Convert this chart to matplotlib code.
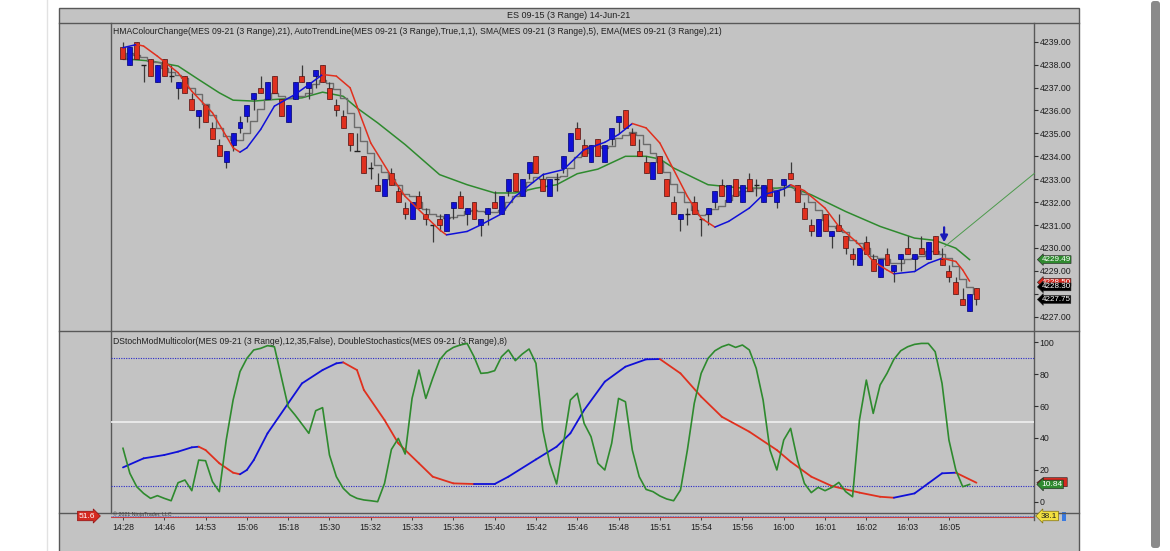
import numpy as np
import pandas as pd
import matplotlib
matplotlib.use("Agg")
import matplotlib.pyplot as plt
from matplotlib.patches import Rectangle, FancyBboxPatch, Polygon
from matplotlib.transforms import blended_transform_factory

plt.rcParams['font.family'] = ['Liberation Sans', 'DejaVu Sans']

# ---- range bars (MES 09-21, 3 range) ----
bar_open = [4238.75, 4238.0, 4239.0, 4238.0, 4238.25, 4237.25, 4238.25, 4237.5, 4237.0, 4237.5,
            4236.5, 4235.75, 4236.25, 4235.25, 4234.5, 4233.75, 4234.5, 4235.25, 4235.75, 4236.5,
            4237.0, 4236.5, 4237.5, 4236.5, 4235.5, 4236.5, 4237.5, 4237.0, 4237.5, 4238.0,
            4237.0, 4236.25, 4235.75, 4235.0, 4234.25, 4234.0, 4233.5, 4232.75, 4232.25, 4233.25,
            4232.5, 4231.75, 4231.25, 4232.25, 4231.5, 4231.0, 4231.25, 4230.75, 4231.75, 4232.25,
            4231.5, 4232.0, 4231.0, 4231.5, 4232.0, 4231.5, 4232.5, 4233.25, 4232.25, 4233.25,
            4234.0, 4233.0, 4232.25, 4233.0, 4233.5, 4234.25, 4235.25, 4234.5, 4233.75, 4234.75,
            4233.75, 4234.75, 4235.5, 4236.0, 4235.0, 4234.25, 4233.75, 4233.0, 4234.0, 4233.0,
            4232.0, 4231.25, 4231.5, 4232.0, 4231.25, 4231.5, 4232.0, 4232.75, 4232.0, 4233.0,
            4232.0, 4233.0, 4232.75, 4232.0, 4233.0, 4232.0, 4232.75, 4233.25, 4232.75, 4231.75,
            4231.0, 4230.5, 4231.5, 4230.5, 4231.0, 4230.5, 4229.75, 4229.25, 4230.25, 4229.5,
            4228.75, 4229.75, 4229.0, 4229.5, 4230.0, 4229.5, 4230.0, 4229.5, 4230.5, 4229.5,
            4229.0, 4228.5, 4227.75, 4227.25, 4228.25]
bar_close = [4238.25, 4238.75, 4238.25, 4238.0, 4237.5, 4238.0, 4237.5, 4237.5, 4237.25, 4236.75,
             4236.0, 4236.0, 4235.5, 4234.75, 4234.0, 4234.25, 4235.0, 4235.5, 4236.25, 4236.75,
             4236.75, 4237.25, 4236.75, 4235.75, 4236.25, 4237.25, 4237.25, 4237.25, 4237.75, 4237.25,
             4236.5, 4236.0, 4235.25, 4234.5, 4234.25, 4233.25, 4233.5, 4232.5, 4233.0, 4232.75,
             4232.0, 4231.5, 4232.0, 4231.75, 4231.25, 4231.0, 4231.0, 4231.5, 4232.0, 4231.75,
             4231.75, 4231.25, 4231.25, 4231.75, 4231.75, 4232.25, 4233.0, 4232.5, 4233.0, 4233.75,
             4233.25, 4232.5, 4233.0, 4233.0, 4234.0, 4235.0, 4234.75, 4234.0, 4234.5, 4234.0,
             4234.5, 4235.25, 4235.75, 4235.25, 4234.5, 4234.0, 4233.25, 4233.75, 4233.25, 4232.25,
             4231.5, 4231.5, 4231.5, 4231.5, 4231.25, 4231.75, 4232.5, 4232.25, 4232.75, 4232.25,
             4232.75, 4232.5, 4232.75, 4232.75, 4232.25, 4232.5, 4233.0, 4233.0, 4232.0, 4231.25,
             4230.75, 4231.25, 4230.75, 4230.75, 4230.75, 4230.0, 4229.5, 4230.0, 4229.75, 4229.0,
             4229.5, 4229.25, 4229.25, 4229.75, 4229.75, 4229.75, 4229.75, 4230.25, 4229.75, 4229.25,
             4228.75, 4228.0, 4227.5, 4228.0, 4227.75]
bar_high = [4239.0, 4238.75, 4239.0, 4238.0, 4238.25, 4238.0, 4238.25, 4238.0, 4237.25, 4237.5,
            4236.75, 4236.0, 4236.25, 4235.5, 4234.75, 4234.25, 4235.0, 4235.75, 4236.25, 4236.75,
            4237.5, 4237.25, 4237.5, 4236.5, 4236.25, 4237.25, 4238.0, 4237.25, 4237.75, 4238.0,
            4237.25, 4236.5, 4236.0, 4235.0, 4235.0, 4234.0, 4233.75, 4233.25, 4233.0, 4233.5,
            4232.75, 4232.0, 4232.0, 4232.5, 4231.75, 4231.0, 4231.5, 4231.5, 4232.0, 4232.5,
            4231.75, 4232.0, 4231.25, 4231.75, 4232.5, 4232.25, 4233.0, 4233.25, 4233.0, 4233.75,
            4234.0, 4233.25, 4233.0, 4233.25, 4234.0, 4235.0, 4235.5, 4234.75, 4234.5, 4234.75,
            4234.5, 4235.25, 4235.75, 4236.0, 4235.25, 4234.75, 4234.0, 4233.75, 4234.0, 4233.0,
            4232.25, 4231.5, 4231.75, 4232.25, 4231.25, 4231.75, 4232.5, 4233.0, 4232.75, 4233.0,
            4232.75, 4233.25, 4233.0, 4232.75, 4233.0, 4232.5, 4233.0, 4233.75, 4232.75, 4232.0,
            4231.25, 4231.25, 4231.5, 4230.75, 4231.5, 4230.5, 4230.0, 4230.0, 4230.5, 4229.75,
            4229.5, 4230.0, 4229.25, 4229.75, 4230.5, 4229.75, 4230.5, 4230.25, 4230.5, 4230.0,
            4229.25, 4228.75, 4228.25, 4228.0, 4228.25]
bar_low = [4238.25, 4238.0, 4238.25, 4237.25, 4237.5, 4237.25, 4237.5, 4237.25, 4236.5, 4236.75,
           4236.0, 4235.25, 4235.5, 4234.75, 4234.0, 4233.5, 4234.25, 4235.0, 4235.5, 4236.0,
           4236.75, 4236.5, 4236.75, 4235.75, 4235.5, 4236.5, 4237.25, 4236.5, 4237.0, 4237.25,
           4236.5, 4235.75, 4235.25, 4234.25, 4234.25, 4233.25, 4233.0, 4232.5, 4232.25, 4232.75,
           4232.0, 4231.25, 4231.25, 4231.75, 4231.0, 4230.25, 4230.75, 4230.75, 4231.25, 4231.75,
           4231.0, 4231.25, 4230.5, 4231.0, 4231.75, 4231.5, 4232.25, 4232.5, 4232.25, 4233.0,
           4233.25, 4232.5, 4232.25, 4232.5, 4233.25, 4234.25, 4234.75, 4234.0, 4233.75, 4234.0,
           4233.75, 4234.5, 4235.0, 4235.25, 4234.5, 4234.0, 4233.25, 4233.0, 4233.25, 4232.25,
           4231.5, 4230.75, 4231.0, 4231.5, 4230.5, 4231.0, 4231.75, 4232.25, 4232.0, 4232.25,
           4232.0, 4232.5, 4232.25, 4232.0, 4232.25, 4231.75, 4232.25, 4233.0, 4232.0, 4231.25,
           4230.5, 4230.5, 4230.75, 4230.0, 4230.75, 4229.75, 4229.25, 4229.25, 4229.75, 4229.0,
           4228.75, 4229.25, 4228.5, 4229.0, 4229.75, 4229.0, 4229.75, 4229.5, 4229.75, 4229.25,
           4228.5, 4228.0, 4227.5, 4227.25, 4227.5]

# HMA(21) at bar positions
hma_bar = [0, 2, 3, 5, 8, 10, 13, 15, 16, 17, 18, 20, 22, 25, 27, 29, 31, 33, 34, 36,
           39, 41, 44, 46, 47, 50, 52, 55, 57, 61, 64, 67, 70, 72, 74, 76, 78, 80, 82, 84,
           86, 88, 91, 93, 96, 97, 99, 102, 104, 107, 109, 111, 112, 115, 117, 119, 121, 122, 123]
hma_val = [4238.74, 4238.88, 4238.81, 4238.37, 4237.65, 4236.84, 4235.90, 4234.88, 4234.37, 4234.18,
           4234.37, 4235.17, 4236.19, 4236.70, 4237.13, 4237.57, 4237.50, 4236.99, 4236.18, 4234.58,
           4233.12, 4232.25, 4231.37, 4230.79, 4230.57, 4230.72, 4231.01, 4231.49, 4232.25, 4233.20,
           4233.42, 4234.29, 4234.61, 4234.95, 4235.43, 4235.24, 4234.58, 4233.42, 4232.25, 4231.30,
           4230.91, 4231.16, 4231.74, 4232.32, 4232.57, 4232.76, 4232.50, 4231.74, 4230.94, 4230.14,
           4229.41, 4229.04, 4228.87, 4228.97, 4229.33, 4229.55, 4229.41, 4229.04, 4228.55]

# EMA(21)
ema_bar = [0, 4, 8, 11, 14, 16, 19, 22, 26, 29, 32, 34, 37, 41, 46, 50, 54, 57, 60, 63,
           66, 69, 73, 76, 78, 80, 85, 90, 95, 97, 100, 105, 110, 115, 118, 121, 123]
ema_val = [4238.26, 4238.16, 4237.94, 4237.35, 4236.77, 4236.45, 4236.41, 4236.48, 4236.55, 4236.80,
           4236.62, 4236.11, 4235.46, 4234.51, 4233.20, 4232.76, 4232.40, 4232.40, 4232.61, 4232.76,
           4233.24, 4233.44, 4234.00, 4234.00, 4233.88, 4233.49, 4232.76, 4232.61, 4232.61, 4232.66,
           4232.32, 4231.59, 4230.94, 4230.43, 4230.33, 4229.99, 4229.49]

# AutoTrendLine end points
trend_bar = [119.4, 132.4]
trend_val = [4230.06, 4233.25]

# DStochModMulticolor(12,35)
dstoch_bar = [0, 3, 6, 8, 10, 11, 12, 14, 16, 17, 18, 19, 21, 24, 26, 29, 31, 32, 34, 35,
              38, 40, 43, 45, 48, 51, 54, 56, 60, 63, 65, 67, 70, 73, 76, 78, 81, 84, 87, 91,
              95, 97, 100, 103, 107, 110, 112, 115, 117, 119, 121, 124]
dstoch_val = [21.5, 27.2, 29.3, 31.4, 34.1, 34.5, 32.4, 24.1, 18.2, 17.2, 19.9, 26.1, 42.9, 61.7,
              74.2, 82.6, 86.8, 87.4, 82.6, 70.1, 51.2, 36.6, 24.1, 15.7, 11.5, 11.1, 11.1, 15.7,
              26.5, 34.5, 42.9, 57.5, 75.3, 84.7, 89.3, 89.5, 80.5, 65.9, 53.3, 43.9, 32.4, 25.1,
              15.7, 9.8, 5.7, 3.1, 2.5, 5.2, 11.5, 17.8, 18.2, 11.9]

# DoubleStochastics(8), one value per bar
dbl_stoch = [33.5, 17.8, 9.4, 5.2, 2.1, 3.8, 2.1, 0.6, 11.9, 13.6,
             6.9, 26.1, 25.7, 12.6, 6.3, 38.7, 63.8, 81.6, 89.9, 95.2,
             96.2, 97.9, 97.2, 78.4, 59.6, 54.4, 48.7, 42.9, 57.1, 59.0,
             29.3, 15.7, 8.4, 4.2, 2.1, 1.1, 0.6, 0.0, 11.5, 32.8,
             39.7, 29.9, 64.8, 82.6, 64.8, 77.4, 88.9, 94.1, 96.8, 98.3,
             99.3, 91.0, 80.5, 80.9, 82.2, 91.0, 95.2, 88.5, 92.6, 95.8,
             86.8, 45.0, 24.1, 11.1, 36.6, 63.8, 68.0, 49.1, 40.8, 24.1,
             19.9, 36.6, 64.8, 62.7, 32.4, 15.7, 7.7, 6.3, 3.6, 1.7,
             0.6, 7.3, 32.4, 61.7, 80.5, 89.9, 94.7, 97.2, 98.7, 96.8,
             98.3, 95.2, 83.7, 63.8, 32.4, 19.9, 38.7, 46.0, 26.1, 11.5,
             5.7, 9.0, 6.9, 9.0, 12.1, 6.3, 3.1, 51.2, 76.3, 55.4,
             73.2, 80.5, 89.3, 94.7, 97.2, 98.7, 99.3, 99.3, 94.1, 74.2,
             38.7, 19.9, 9.4, 10.84]

time_labels = ['14:28', '14:46', '14:53', '15:06', '15:18', '15:30', '15:32', '15:33', '15:36',
               '15:40', '15:42', '15:46', '15:48', '15:51', '15:54', '15:56', '16:00', '16:01',
               '16:02', '16:03', '16:05']

price_ticks = [4227, 4228, 4229, 4230, 4231, 4232, 4233, 4234, 4235, 4236, 4237, 4238, 4239]
price_tags = [('4229.49', 4229.49, '#2f8a2f'), ('4228.50', 4228.50, '#d42a20'),
              ('4228.30', 4228.30, '#000000'), ('4227.75', 4227.75, '#000000')]

W, H = 1170, 551
GRAY = '#c3c3c3'
LINE = '#585858'
RED = '#e0301e'
BLUE = '#1010d8'
GREEN = '#2e8a2e'

fig = plt.figure(figsize=(W / 100, H / 100), dpi=100)
fig.patch.set_facecolor('white')


def pane(l, t, r, b):
    return fig.add_axes([l / W, 1 - b / H, (r - l) / W, (b - t) / H])


# background frame in pixel coordinates
bg = pane(0, 0, W, H)
bg.set_xlim(0, W)
bg.set_ylim(H, 0)
bg.axis('off')
bg.plot([47, 47], [0, H], color='#e2e2e2', lw=1)
bg.add_patch(Rectangle((59, 8), 1020, 548, fc=GRAY, ec=LINE, lw=1))
for yy in (22.5, 331, 513):
    bg.plot([59, 1079], [yy, yy], color=LINE, lw=1)
bg.plot([111, 111], [22.5, 513], color=LINE, lw=1)
bg.plot([1034, 1034], [22.5, 520], color=LINE, lw=1)
bg.add_patch(FancyBboxPatch((1151, 1), 9, 547, boxstyle='round,pad=0,rounding_size=3',
                            fc='#8a8a8a', ec='none'))
bg.text(569, 15, 'ES 09-15 (3 Range) 14-Jun-21', ha='center', va='center', fontsize=6.5, color='#202020')
bg.text(113, 31, 'HMAColourChange(MES 09-21 (3 Range),21), AutoTrendLine(MES 09-21 (3 Range),True,1,1), '
        'SMA(MES 09-21 (3 Range),5), EMA(MES 09-21 (3 Range),21)',
        ha='left', va='center', fontsize=6.25, color='#202020')
bg.text(113, 341, 'DStochModMulticolor(MES 09-21 (3 Range),12,35,False), DoubleStochastics(MES 09-21 (3 Range),8)',
        ha='left', va='center', fontsize=6.2, color='#202020')
bg.text(113, 514.5, '\u00a9 2021 NinjaTrader, LLC', ha='left', va='center', fontsize=3.8, color='#404040')
bg.text(87, 516, '51.6', ha='center', va='center', fontsize=6, color='white',
        bbox=dict(boxstyle='rarrow,pad=0.15', fc='#d42a20', ec='#901010', lw=0.5))
bg.text(1049, 516, '38.1', ha='center', va='center', fontsize=6, color='#202020',
        bbox=dict(boxstyle='larrow,pad=0.15', fc='#f2e040', ec='#807010', lw=0.5))
bg.add_patch(Rectangle((1062, 511.5), 4, 9, fc='#3a7ae0', ec='none'))

x0, x1 = -1.74, 132.36
n = len(bar_open)
xs = np.arange(n)
o = np.array(bar_open)
c = np.array(bar_close)

# ---- price panel ----
ax = pane(111, 22.5, 1034, 331)
ax.set_facecolor('none')
ax.set_xlim(x0, x1)
ax.set_ylim(4226.375, 4239.84)
for s in ax.spines.values():
    s.set_visible(False)
ax.set_xticks([])
ax.yaxis.tick_right()
ax.set_yticks(price_ticks)
# the 4228.00 label sits under the price tags in the reference
ax.set_yticklabels(['' if v == 4228 else '%.2f' % v for v in price_ticks])
ax.tick_params(axis='y', length=3, width=0.8, color='#303030', pad=1, labelsize=6.3, labelcolor='#202020')

ax.plot(ema_bar, ema_val, color=GREEN, lw=1.1, zorder=2)

sma = pd.Series(bar_close).rolling(5, min_periods=1).mean()
ax.plot(xs, sma, drawstyle='steps-mid', color='#6c6c6c', lw=1.0, zorder=2)

ax.vlines(xs, bar_low, bar_high, color='#3a3a3a', lw=0.9, zorder=3)
up = c > o
dn = c < o
ax.bar(xs[up], (c - o)[up], bottom=o[up], width=0.72, color=BLUE, edgecolor='#000070', lw=0.5, zorder=4)
ax.bar(xs[dn], (o - c)[dn], bottom=c[dn], width=0.72, color=RED, edgecolor='#501010', lw=0.5, zorder=4)
dj = c == o
ax.hlines(o[dj], xs[dj] - 0.38, xs[dj] + 0.38, color='#202020', lw=1.0, zorder=4)

for k in range(len(hma_bar) - 1):
    col = BLUE if hma_val[k + 1] >= hma_val[k] else RED
    ax.plot(hma_bar[k:k + 2], hma_val[k:k + 2], color=col, lw=1.1, zorder=5, solid_capstyle='round')

ax.plot(trend_bar, trend_val, color='#4c9a4c', lw=0.7, zorder=2, clip_on=False)
ax.annotate('', xy=(119.3, 4230.25), xytext=(119.3, 4230.9),
            arrowprops=dict(arrowstyle='-|>,head_width=0.3,head_length=0.55', mutation_scale=7,
                            color='#1a1ab8', lw=1.6, shrinkA=0, shrinkB=0))

tr = blended_transform_factory(ax.transAxes, ax.transData)
for txt, val, col in price_tags:
    ax.text(1.008, val, txt, transform=tr, ha='left', va='center', fontsize=5.8, color='white',
            clip_on=False, zorder=10,
            bbox=dict(boxstyle='larrow,pad=0.05', fc=col, ec='#202020', lw=0.4))

# ---- stochastics panel ----
sx = pane(111, 331, 1034, 513)
sx.set_facecolor('none')
sx.set_xlim(x0, x1)
sx.set_ylim(-7.09, 107.09)
for s in sx.spines.values():
    s.set_visible(False)
sx.set_xticks([])
sx.yaxis.tick_right()
sx.set_yticks(range(0, 101, 20))
sx.tick_params(axis='y', length=3, width=0.8, color='#303030', pad=1, labelsize=6.3, labelcolor='#202020')
sx.axhline(50, color='#ececec', lw=1.3, zorder=1)
sx.axhline(90, color='#2828c8', lw=0.8, ls=(0, (1, 1.2)), zorder=1)
sx.axhline(10, color='#2828c8', lw=0.8, ls=(0, (1, 1.2)), zorder=1)

for k in range(len(dstoch_bar) - 1):
    col = BLUE if dstoch_val[k + 1] >= dstoch_val[k] else RED
    sx.plot(dstoch_bar[k:k + 2], dstoch_val[k:k + 2], color=col, lw=1.3, zorder=3, solid_capstyle='round')
sx.plot(np.arange(len(dbl_stoch)), dbl_stoch, color=GREEN, lw=1.2, zorder=4)

# red value marker mostly hidden behind the green one
trs = blended_transform_factory(sx.transAxes, sx.transData)
sx.add_patch(Polygon([(1.003, dstoch_val[-1]), (1.010, dstoch_val[-1] + 3.2), (1.036, dstoch_val[-1] + 3.2),
                      (1.036, dstoch_val[-1] - 2.5), (1.010, dstoch_val[-1] - 2.5)],
                     closed=True, transform=trs, fc='#d42a20', ec='#202020', lw=0.4, clip_on=False, zorder=9))
sx.text(1.008, dbl_stoch[-1], '%.2f' % dbl_stoch[-1], transform=trs, ha='left', va='center', fontsize=6.0,
        color='white', clip_on=False, zorder=10,
        bbox=dict(boxstyle='larrow,pad=0.1', fc='#2f8a2f', ec='#202020', lw=0.4))

# ---- thin strip + time axis ----
tx = pane(111, 513, 1034, 520)
tx.set_facecolor('none')
tx.set_xlim(x0, x1)
tx.set_ylim(0, 1)
for s in tx.spines.values():
    s.set_visible(False)
tx.plot([x0, x1], [0.45, 0.45], color='#c84040', lw=0.8)
tx.plot([x0, x1], [0.6, 0.6], color='#4060d0', lw=0.6, ls=(0, (1, 1)))
tx.set_yticks([])
tx.set_xticks(np.arange(0, 6 * len(time_labels), 6))
tx.set_xticklabels(time_labels)
tx.tick_params(axis='x', length=2, width=0.7, direction='in', color='#404040', pad=2.5,
               labelsize=6.3, labelcolor='#202020')

fig.savefig('out.png', dpi=100, facecolor='white')
